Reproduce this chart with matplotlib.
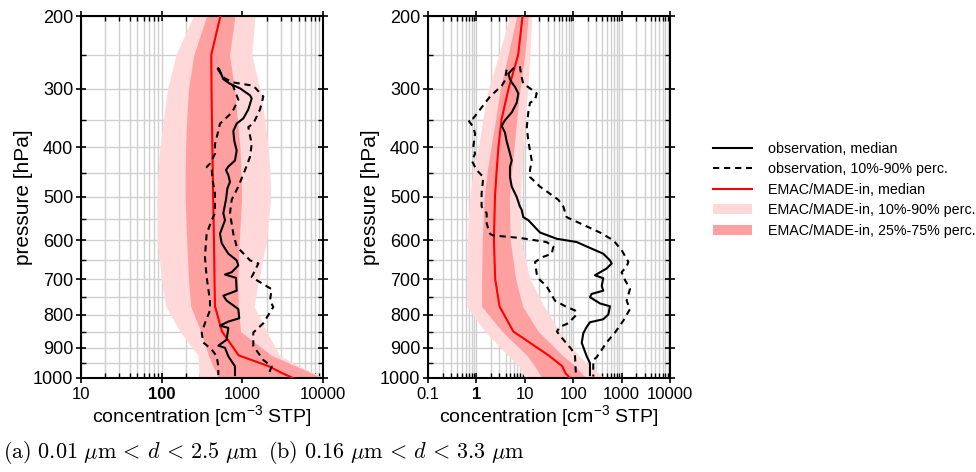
import numpy as np
import matplotlib
matplotlib.use('Agg')
import matplotlib.pyplot as plt
from matplotlib.lines import Line2D
from matplotlib.patches import Patch
from matplotlib.ticker import FixedLocator, LogLocator, NullFormatter

plt.rcParams['font.family'] = ['Liberation Sans', 'DejaVu Sans']
plt.rcParams['mathtext.fontset'] = 'custom'
plt.rcParams['mathtext.rm'] = 'Liberation Sans'
plt.rcParams['mathtext.it'] = 'Liberation Sans:italic'

# ---- model (EMAC/MADE-in) profiles on model pressure levels [hPa]
p_mod = [200, 250, 300, 350, 400, 450, 500, 600, 700, 775, 850, 925, 960, 985, 1000]

# panel a: 0.01 um < d < 2.5 um
a_med = [535, 412, 415, 420, 425, 430, 435, 445, 452, 458, 560, 900, 2100, 3200, 4250]
a_p25 = [361, 250, 215, 204, 198, 195, 195, 204, 215, 229, 305, 380, 430, 480, 500]
a_p75 = [811, 695, 800, 870, 935, 960, 982, 916, 880, 891, 950, 2300, 4600, 7500, 9500]
a_p10 = [247, 150, 118, 105, 95, 90, 87, 88, 100, 112, 169, 280, 290, 290, 290]
a_p90 = [1436, 1310, 1650, 1900, 2100, 2200, 2250, 2000, 1600, 1400, 2000, 2900, 5000, 8000, 10000]

# panel b: 0.16 um < d < 3.3 um
b_med = [9.0, 7.3, 4.6, 3.3, 2.85, 2.6, 2.42, 2.3, 2.45, 3.0, 5.8, 31, 59, 70, 86]
b_p25 = [6.8, 4.5, 3.1, 2.5, 2.0, 1.65, 1.45, 1.32, 1.28, 1.28, 3.4, 11, 16, 20, 22]
b_p75 = [11.8, 10, 8, 6.8, 6.0, 5.3, 4.8, 5.0, 6.5, 9, 19, 60, 110, 150, 190]
b_p10 = [4.9, 2.9, 1.76, 1.35, 1.1, 0.85, 0.72, 0.65, 0.63, 0.63, 1.5, 4.5, 7.5, 9, 10]
b_p90 = [13.9, 12.8, 11.5, 10, 9.2, 8.6, 8.0, 8.3, 13, 25, 52, 130, 220, 350, 430]

# ---- observations
a_obs_med_p = [269, 273, 285, 292, 299, 310, 315, 333, 348, 357, 370, 388, 406, 425, 437, 444,
               454, 468, 482, 506, 536, 552, 584, 607, 633, 650, 663, 681, 687, 696, 731, 745,
               759, 783, 810, 820, 832, 839, 875, 894, 901, 928, 961, 990]
a_obs_med_c = [504, 528, 581, 703, 935, 1245, 1306, 1186, 1028, 851, 773, 795, 851, 811, 670, 627,
               670, 703, 652, 627, 581, 610, 528, 555, 670, 851, 891, 738, 610, 834, 851, 581,
               640, 891, 916, 670, 528, 670, 640, 504, 610, 670, 811, 811]

a_obs_p10_p = [269, 282, 295, 317, 338, 357, 370, 394, 412, 431, 438, 444, 465, 493, 536, 552,
               584, 641, 694, 759, 787, 825, 853, 884, 906, 928, 961, 990]
a_obs_p10_c = [490, 581, 766, 891, 745, 528, 504, 458, 458, 397, 361, 417, 429, 458, 458, 417,
               361, 344, 361, 397, 397, 344, 313, 328, 417, 481, 504, 504]

a_obs_p90_p = [269, 282, 290, 295, 312, 333, 357, 363, 394, 418, 444, 478, 506, 536, 584, 615,
               650, 658, 694, 727, 759, 777, 825, 853, 895, 940, 961, 990]
a_obs_p90_c = [510, 560, 773, 1368, 1820, 1655, 1368, 1186, 1306, 1245, 1080, 891, 738, 703, 773, 851,
               1245, 1580, 1306, 2310, 2200, 2420, 1820, 1368, 1368, 1820, 2310, 2100]

b_obs_med_p = [269, 277, 285, 290, 297, 307, 322, 338, 351, 361, 373, 388, 400, 425, 438, 458,
               478, 500, 521, 528, 545, 552, 581, 596, 604, 615, 633, 650, 658, 671, 689, 697,
               718, 731, 740, 749, 767, 775, 799, 813, 822, 836, 855, 885, 928, 950, 990]
b_obs_med_c = [5.8, 4.57, 4.94, 5.37, 6.3, 7.35, 6.8, 5.37, 3.9, 3.33, 3.9, 4.2, 4.57, 5.37, 4.94, 4.94,
               5.37, 6.8, 7.9, 8.6, 9.3, 11.8, 20.6, 45.6, 118, 190, 417, 575, 624, 492, 282, 417,
               389, 417, 240, 222, 358, 575, 531, 417, 222, 190, 162, 150, 190, 222, 222]

b_obs_p10_p = [271, 287, 295, 312, 333, 348, 351, 363, 375, 400, 412, 425, 444, 458, 493, 521,
               536, 560, 584, 588, 594, 604, 615, 633, 641, 654, 685, 702, 718, 759, 777, 787,
               799, 825, 836, 850, 875, 906, 928, 995]
b_obs_p10_c = [4.2, 3.9, 3.33, 1.91, 1.19, 0.86, 0.68, 0.86, 0.94, 0.86, 0.94, 0.8, 1.01, 1.39, 1.28, 1.28,
               1.63, 1.63, 1.91, 2.2, 7.9, 28, 39, 36, 24, 16.3, 17.6, 20.6, 28, 42, 73, 109,
               118, 79, 53, 46, 62.5, 93, 109, 114]

b_obs_p90_p = [266, 282, 292, 299, 307, 317, 322, 338, 363, 388, 406, 425, 444, 458, 478, 493,
               506, 521, 545, 552, 581, 600, 624, 654, 666, 681, 702, 726, 759, 783, 817, 853,
               884, 931, 940, 995]
b_obs_p90_c = [7.9, 8.6, 9.3, 12.8, 17.6, 16.3, 12.8, 11.8, 11, 11.8, 12.8, 13.9, 12.8, 12.8, 20.6, 33,
               49, 62.5, 73, 100, 358, 676, 1000, 1380, 1270, 1000, 1175, 1490, 1270, 1490, 1087, 731,
               490, 305, 260, 260]

p_ticks = [200, 300, 400, 500, 600, 700, 800, 900, 1000]
p_minor = [250, 350, 450, 550, 650, 750, 850, 950]

a_xticks = [10, 100, 1000, 10000]
a_xlabels = ['10', '100', '1000', '10000']
b_xticks = [0.1, 1, 10, 100, 1000, 10000]
b_xlabels = ['0.1', '1', '10', '100', '1000', '10000']

light = '#ffd9d9'
dark = '#ffa0a0'
K = 0.35


def fwd(p):
    p = np.asarray(p, dtype=float)
    return np.sign(p) * np.abs(p) ** K


def inv(u):
    u = np.asarray(u, dtype=float)
    return np.sign(u) * np.abs(u) ** (1.0 / K)


def draw_panel(ax, med, p25, p75, p10, p90, obs, xlim, xticks, xlabels, bold):
    ax.fill_betweenx(p_mod, p10, p90, color=light, lw=0, zorder=1)
    ax.fill_betweenx(p_mod, p25, p75, color=dark, lw=0, zorder=1.1)
    ax.plot(med, p_mod, color='red', lw=1.5, zorder=3)
    (mp, mc), (lp, lc), (hp, hc) = obs
    ax.plot(mc, mp, color='black', lw=1.5, zorder=4)
    ax.plot(lc, lp, color='black', lw=1.5, ls=(0, (3, 2.3)), zorder=4)
    ax.plot(hc, hp, color='black', lw=1.5, ls=(0, (3, 2.3)), zorder=4)

    ax.set_xscale('log')
    ax.set_xlim(xlim)
    ax.set_yscale('function', functions=(fwd, inv))
    ax.set_ylim(1000, 200)

    ax.yaxis.set_major_locator(FixedLocator(p_ticks))
    ax.yaxis.set_minor_locator(FixedLocator(p_minor))
    ax.set_yticklabels([str(p) for p in p_ticks])
    ax.yaxis.set_minor_formatter(NullFormatter())
    ax.xaxis.set_major_locator(FixedLocator(xticks))
    ax.set_xticklabels(xlabels)
    ax.xaxis.set_minor_locator(LogLocator(base=10, subs=range(2, 10), numticks=20))
    ax.xaxis.set_minor_formatter(NullFormatter())
    for t in ax.get_xticklabels():
        if t.get_text() == bold:
            t.set_fontweight('bold')

    ax.grid(True, which='both', color='#d0d0d0', lw=1.0)
    ax.set_axisbelow(True)
    ax.tick_params(which='major', direction='inout', length=7, width=1.2,
                   top=True, right=True)
    ax.tick_params(which='minor', direction='in', length=3.5, width=1.0,
                   top=True, right=True)
    ax.tick_params(axis='y', which='major', labelsize=13, pad=2)
    ax.tick_params(axis='x', which='major', labelsize=12, pad=3)
    for s in ax.spines.values():
        s.set_linewidth(1.5)

    ax.set_xlabel('concentration [cm$^{-3}$ STP]', fontsize=14, labelpad=1)
    ax.set_ylabel('pressure [hPa]', fontsize=15)
    ax.yaxis.set_label_coords(-0.2, 0.5)


fig = plt.figure(figsize=(9.76, 4.72), dpi=100)
ax_a = fig.add_axes([81 / 976, 94 / 472, 242 / 976, 362 / 472])
ax_b = fig.add_axes([428 / 976, 94 / 472, 242 / 976, 362 / 472])

draw_panel(ax_a, a_med, a_p25, a_p75, a_p10, a_p90,
           [(a_obs_med_p, a_obs_med_c), (a_obs_p10_p, a_obs_p10_c), (a_obs_p90_p, a_obs_p90_c)],
           (10, 10000), a_xticks, a_xlabels, '100')
draw_panel(ax_b, b_med, b_p25, b_p75, b_p10, b_p90,
           [(b_obs_med_p, b_obs_med_c), (b_obs_p10_p, b_obs_p10_c), (b_obs_p90_p, b_obs_p90_c)],
           (0.1, 10000), b_xticks, b_xlabels, '1')

handles = [
    Line2D([], [], color='black', lw=1.5),
    Line2D([], [], color='black', lw=1.5, ls=(0, (3, 2.3))),
    Line2D([], [], color='red', lw=1.5),
    Patch(facecolor=light, edgecolor='none'),
    Patch(facecolor=dark, edgecolor='none'),
]
labels = ['observation, median', 'observation, 10%-90% perc.', 'EMAC/MADE-in, median',
          'EMAC/MADE-in, 10%-90% perc.', 'EMAC/MADE-in, 25%-75% perc.']
fig.legend(handles, labels, loc='upper left', bbox_to_anchor=(713 / 976, 1 - 142 / 472),
           frameon=False, fontsize=10.3, handlelength=2.75, handletextpad=1.1,
           labelspacing=0.45, borderpad=0, borderaxespad=0)

fig.text(3 / 976, 1 - 452 / 472,
         r'$\mathrm{(a)}\ 0.01\ \mu\mathrm{m}\,<\,d\,<\,2.5\ \mu\mathrm{m}$',
         fontsize=16, ha='left', va='center', math_fontfamily='cm')
fig.text(268 / 976, 1 - 452 / 472,
         r'$\mathrm{(b)}\ 0.16\ \mu\mathrm{m}\,<\,d\,<\,3.3\ \mu\mathrm{m}$',
         fontsize=16, ha='left', va='center', math_fontfamily='cm')

fig.savefig('out.png', dpi=100)
